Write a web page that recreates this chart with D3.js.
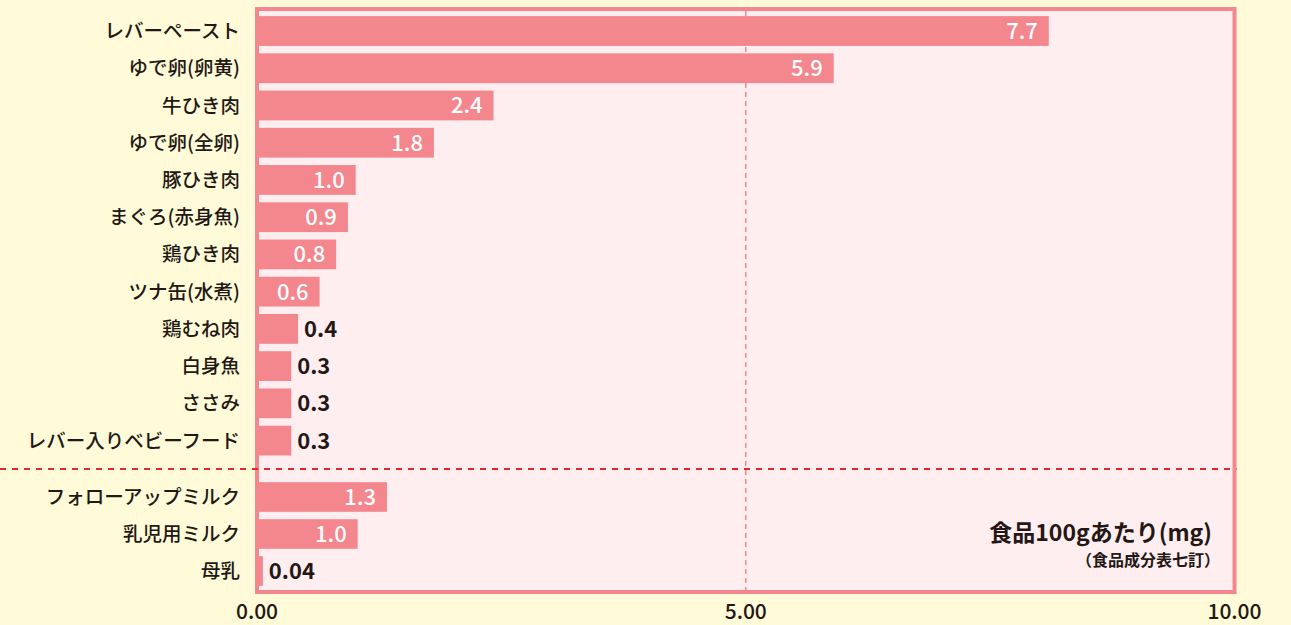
<!DOCTYPE html>
<html><head><meta charset="utf-8">
<script src="https://cdn.jsdelivr.net/npm/d3@7"></script>
<style>
html,body{margin:0;padding:0;background:#fffbd8;}
svg{display:block;}
text{font-family:"Noto Sans CJK JP","Noto Sans",sans-serif;}
</style></head>
<body>
<svg id="chart" width="1291" height="625"></svg>
<script>
// ---- data ----
const categoriesTop = ["レバーペースト","ゆで卵(卵黄)","牛ひき肉","ゆで卵(全卵)","豚ひき肉","まぐろ(赤身魚)","鶏ひき肉","ツナ缶(水煮)","鶏むね肉","白身魚","ささみ","レバー入りベビーフード"];
const barValuesTop = [8.1, 5.9, 2.42, 1.81, 1.01, 0.93, 0.81, 0.64, 0.42, 0.35, 0.35, 0.35];
const valueLabelsTop = ["7.7","5.9","2.4","1.8","1.0","0.9","0.8","0.6","0.4","0.3","0.3","0.3"];
const categoriesBottom = ["フォローアップミルク","乳児用ミルク","母乳"];
const barValuesBottom = [1.33, 1.03, 0.06];
const valueLabelsBottom = ["1.3","1.0","0.04"];
const tickValues = [0, 5, 10];
const tickLabels = ["0.00","5.00","10.00"];
const unitTitle = "食品100gあたり(mg)";
const unitSource = "（食品成分表七訂）";

// ---- layout ----
const svg = d3.select("#chart");
const panel = {x0:257, x1:1234.5, y0:9, y1:592};
const x = d3.scaleLinear().domain([0,10]).range([panel.x0, panel.x1]);
const yTop = d3.scaleBand().domain(categoriesTop).range([12.4, 459.2]).paddingInner(0.2).paddingOuter(0.1);
const yBot = d3.scaleBand().domain(categoriesBottom).range([478.5, 589.5]).paddingInner(0.2).paddingOuter(0.1);

const ink = "#231815", barColor = "#f4868e";

// panel
svg.append("rect").attr("x",panel.x0).attr("y",panel.y0)
  .attr("width",panel.x1-panel.x0).attr("height",panel.y1-panel.y0)
  .attr("fill","#ffeeef").attr("stroke","#f4878e").attr("stroke-width",4);

// vertical grid at 5
svg.append("line").attr("x1",x(5)).attr("x2",x(5)).attr("y1",panel.y0+2).attr("y2",panel.y1-2)
  .attr("stroke","#f4878e").attr("stroke-width",1.5).attr("stroke-dasharray","5,4");

function drawGroup(cats, vals, labs, y){
  const rows = cats.map((c,i)=>({c, v:vals[i], l:labs[i]}));
  const g = svg.append("g");
  g.selectAll("rect.bar").data(rows).join("rect").attr("class","bar")
    .attr("x", x(0)).attr("y", d=>y(d.c))
    .attr("width", d=>x(d.v)-x(0)).attr("height", y.bandwidth())
    .attr("fill", barColor);
  g.selectAll("text.cat").data(rows).join("text").attr("class","cat")
    .attr("x", 240).attr("y", d=>y(d.c)+y.bandwidth()/2)
    .attr("dy","0.36em").attr("text-anchor","end")
    .attr("font-size",19.5).attr("font-weight",500).attr("fill",ink)
    .text(d=>d.c);
  g.selectAll("text.val").data(rows).join("text").attr("class","val")
    .attr("x", d=> d.v>=0.5 ? x(d.v)-11 : x(d.v)+6)
    .attr("y", d=>y(d.c)+y.bandwidth()/2)
    .attr("dy","0.36em")
    .attr("text-anchor", d=> d.v>=0.5 ? "end" : "start")
    .attr("font-size",22)
    .attr("font-weight", d=> d.v>=0.5 ? 500 : 700)
    .attr("fill", d=> d.v>=0.5 ? "#ffffff" : ink)
    .text(d=>d.l);
}
drawGroup(categoriesTop, barValuesTop, valueLabelsTop, yTop);
drawGroup(categoriesBottom, barValuesBottom, valueLabelsBottom, yBot);

// separator
svg.append("line").attr("x1",0).attr("x2",panel.x1+2).attr("y1",469).attr("y2",469)
  .attr("stroke","#e9242e").attr("stroke-width",2).attr("stroke-dasharray","6,6");

// x axis labels
svg.selectAll("text.tick").data(tickValues).join("text").attr("class","tick")
  .attr("x", d=>x(d)).attr("y", 619).attr("text-anchor","middle")
  .attr("font-size",21).attr("font-weight",500).attr("fill",ink)
  .text((d,i)=>tickLabels[i]);

// unit annotation
svg.append("text").attr("x",1212).attr("y",541).attr("text-anchor","end")
  .attr("font-size",23).attr("font-weight",700).attr("fill",ink).text(unitTitle);
svg.append("text").attr("x",1220).attr("y",566).attr("text-anchor","end")
  .attr("font-size",16).attr("font-weight",700).attr("fill",ink).text(unitSource);
</script>
</body></html>
